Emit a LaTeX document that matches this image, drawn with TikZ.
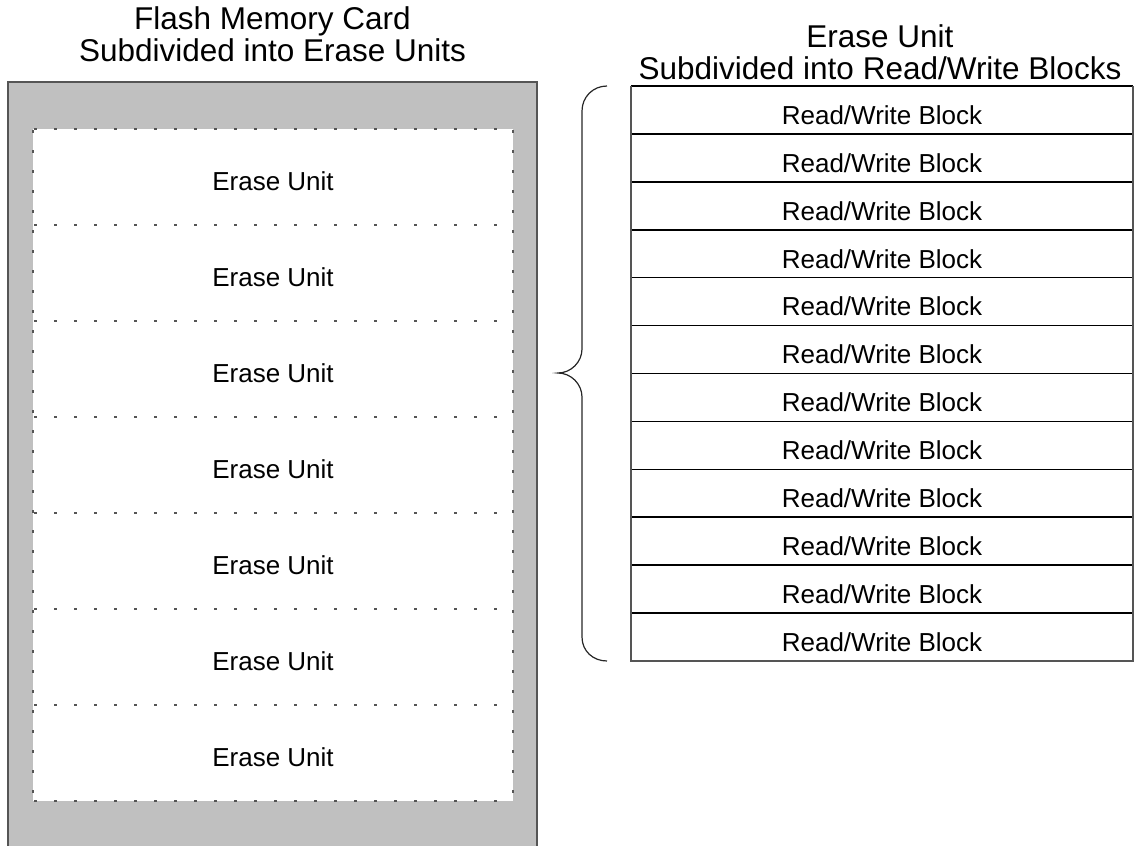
\documentclass[tikz,border=0pt]{standalone}
\usepackage{fontspec}
\setmainfont{Liberation Sans}
\definecolor{cardgray}{HTML}{C0C0C0}
\definecolor{edgegray}{HTML}{555555}
\begin{document}
\begin{tikzpicture}[x=1pt,y=-1pt,
  title/.style={font=\fontsize{31.5}{32}\selectfont, align=center, inner sep=0pt},
  body/.style={font=\fontsize{26}{30}\selectfont, inner sep=0pt},
  divider/.style={edgegray, line width=1.3pt, dash pattern=on 3pt off 17pt, dash phase=-1pt},
  rowline/.style={black, line width=1.6pt},
  brace/.style={black!85, line width=1.2pt}]
\useasboundingbox (0,0) rectangle (1136,846);

% flash card: grey frame running off the bottom edge
\fill[cardgray] (8,82) rectangle (537,846);
\draw[edgegray, line width=1.2pt] (8,846) -- (8,82) -- (537,82) -- (537,846);
\fill[white] (33,129) rectangle (513,801);
\node[inner sep=0pt, minimum width=480pt, minimum height=672pt] (inner) at (273,465) {};

% dotted outline and dividers of the erase units
\foreach \i in {0,...,7} {
  \draw[divider] (33,129+96*\i) -- (513,129+96*\i);
}
\draw[divider] (33,129) -- (33,801);
\draw[divider] (513,129) -- (513,801);
\foreach \i in {1,...,7} {
  \node[body] (eu\i) at (273,81+96*\i+4) {Erase Unit};
}

% titles
\node[title] (lt) at (272.5,34) {Flash Memory Card\\Subdivided into Erase Units};
\node[title] (rt) at (880,52) {Erase Unit\\Subdivided into Read/Write Blocks};

% read/write blocks table
\def\rowh{47.917}
\foreach \i in {1,...,12} {
  \node[body] (rw\i) at (882,86+\rowh*\i-\rowh/2+5) {Read/Write Block};
}
\foreach \i in {1,...,11} {
  \draw[rowline] (631,86+\rowh*\i) -- (1133,86+\rowh*\i);
}
\draw[rowline] (631,86) -- (1133,86);
\draw[edgegray, line width=1.2pt] (631,86) -- (631,661) -- (1133,661) -- (1133,86);

% curly brace grouping the blocks
\coordinate (bt) at (607,86);
\coordinate (bm) at (558,373);
\coordinate (bb) at (607,661);
\draw[brace] (bt) .. controls (593,86) and (582,97) .. (582,111)
  -- (582,349) .. controls (582,362) and (571,373) .. (bm)
  .. controls (571,373) and (582,384) .. (582,397)
  -- (582,637) .. controls (582,651) and (593,661) .. (bb);
\end{tikzpicture}
\end{document}
